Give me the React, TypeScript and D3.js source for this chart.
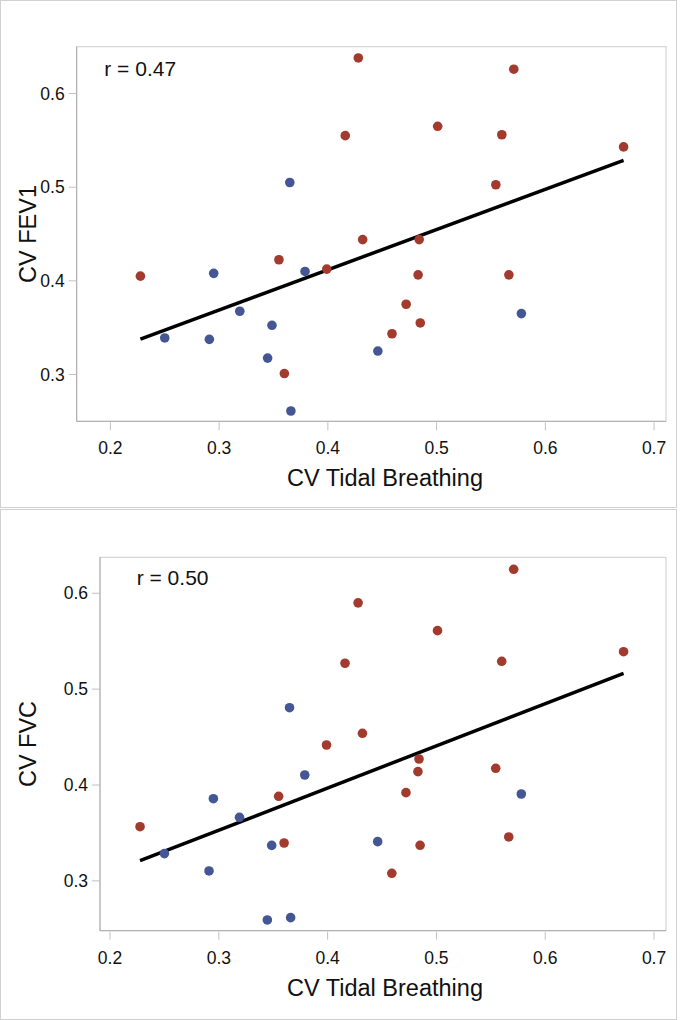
import React from 'react';
import * as d3 from 'd3';

// CV of tidal breathing (x) for each group
const tidalRed = [0.2276, 0.355, 0.399, 0.432, 0.36, 0.428, 0.416, 0.571, 0.501, 0.56, 0.672, 0.5545, 0.484, 0.483, 0.5665, 0.472, 0.485, 0.459];
const tidalBlue = [0.365, 0.295, 0.379, 0.319, 0.3486, 0.25, 0.291, 0.3446, 0.366, 0.446, 0.578];

// CV FEV1 (top panel)
const fev1Red = [0.405, 0.4225, 0.4125, 0.444, 0.301, 0.638, 0.555, 0.626, 0.565, 0.556, 0.543, 0.5026, 0.444, 0.4064, 0.4064, 0.375, 0.355, 0.3435];
const fev1Blue = [0.505, 0.408, 0.41, 0.3675, 0.3525, 0.339, 0.3375, 0.3175, 0.261, 0.325, 0.365];

// CV FVC (bottom panel)
const fvcRed = [0.3565, 0.3882, 0.4417, 0.4539, 0.3395, 0.59, 0.527, 0.625, 0.561, 0.529, 0.539, 0.4174, 0.4271, 0.4139, 0.3458, 0.392, 0.3371, 0.3079];
const fvcBlue = [0.4806, 0.3857, 0.4104, 0.3663, 0.337, 0.3284, 0.3103, 0.2592, 0.2616, 0.3409, 0.3906];

const xTicks = [0.2, 0.3, 0.4, 0.5, 0.6, 0.7];
const yTicks = [0.3, 0.4, 0.5, 0.6];
const xLabel = 'CV Tidal Breathing';
const yLabels = ['CV FEV1', 'CV FVC'];
const rLabels = ['r = 0.47', 'r = 0.50'];

const style = {
  font: '"Liberation Sans", Arial, sans-serif',
  red: '#A23A2E',
  blue: '#445694',
  frame: '#cccccc',
  axis: '#aaaaaa',
  tick: '#c0c0c0',
  border: '#d0d0d0',
  text: '#111',
  tickFont: 17.5,
  labelFont: 23.5,
  rFont: 21,
  radius: 4.8,
  lineWidth: 3.5,
};

const fmt = d3.format('.1f');

interface PanelProps {
  top: number;
  height: number;
  plot: { left: number; top: number; right: number; bottom: number };
  xDomain: [number, number];
  yDomain: [number, number];
  redY: number[];
  blueY: number[];
  yLabel: string;
  rText: string;
  rX: number;
}

// least squares fit over both groups
function fit(xs: number[], ys: number[]) {
  const mx = d3.mean(xs)!;
  const my = d3.mean(ys)!;
  let sxy = 0, sxx = 0;
  xs.forEach((x, i) => {
    sxy += (x - mx) * (ys[i] - my);
    sxx += (x - mx) * (x - mx);
  });
  const slope = sxy / sxx;
  return (x: number) => my + slope * (x - mx);
}

const Panel: React.FC<PanelProps> = ({ top, height, plot, xDomain, yDomain, redY, blueY, yLabel, rText, rX }) => {
  const x = d3.scaleLinear().domain(xDomain).range([plot.left, plot.right]);
  const y = d3.scaleLinear().domain(yDomain).range([plot.bottom, plot.top]);

  const allX = [...tidalRed, ...tidalBlue];
  const allY = [...redY, ...blueY];
  const f = fit(allX, allY);
  const [x0, x1] = d3.extent(allX) as [number, number];
  const line = d3.line<number>().x(d => x(d)).y(d => y(f(d)));

  const midY = (plot.top + plot.bottom) / 2;

  return (
    <g transform={`translate(0,${top})`} fontFamily={style.font} fill={style.text}>
      <rect x={0.5} y={0.5} width={676} height={height - 1} fill="#fff" stroke={style.border} />
      <rect x={plot.left} y={plot.top} width={plot.right - plot.left} height={plot.bottom - plot.top}
        fill="#fff" stroke={style.frame} />
      <line x1={plot.left} x2={plot.left} y1={plot.top} y2={plot.bottom} stroke={style.axis} />
      <line x1={plot.left} x2={plot.right} y1={plot.bottom} y2={plot.bottom} stroke={style.axis} />

      {xTicks.map(t => (
        <g key={t} transform={`translate(${x(t)},0)`}>
          <line y1={plot.bottom + 1} y2={plot.bottom + 9} stroke={style.tick} />
          <text y={plot.bottom + 33} textAnchor="middle" fontSize={style.tickFont}>{fmt(t)}</text>
        </g>
      ))}
      {yTicks.map(t => (
        <g key={t} transform={`translate(0,${y(t)})`}>
          <line x1={plot.left - 8} x2={plot.left} stroke={style.tick} />
          <text x={plot.left - 12} dy="0.35em" textAnchor="end" fontSize={style.tickFont}>{fmt(t)}</text>
        </g>
      ))}

      <text x={385} y={plot.bottom + 65} textAnchor="middle" fontSize={style.labelFont}>{xLabel}</text>
      <text transform={`translate(36,${midY}) rotate(-90)`} textAnchor="middle" fontSize={style.labelFont}>{yLabel}</text>
      <text x={rX} y={76} fontSize={style.rFont}>{rText}</text>

      <path d={line([x0, x1]) ?? ''} fill="none" stroke="#000" strokeWidth={style.lineWidth} />

      {tidalBlue.map((v, i) => (
        <circle key={'b' + i} cx={x(v)} cy={y(blueY[i])} r={style.radius} fill={style.blue} />
      ))}
      {tidalRed.map((v, i) => (
        <circle key={'r' + i} cx={x(v)} cy={y(redY[i])} r={style.radius} fill={style.red} />
      ))}
    </g>
  );
};

export default function App() {
  return (
    <svg width={680} height={1020} style={{ position: 'absolute', left: 0, top: 0, background: '#fff' }}>
      <Panel
        top={0}
        height={508}
        plot={{ left: 76.7, top: 46.7, right: 666, bottom: 421.3 }}
        xDomain={[0.169, 0.711]}
        yDomain={[0.25, 0.65]}
        redY={fev1Red}
        blueY={fev1Blue}
        yLabel={yLabels[0]}
        rText={rLabels[0]}
        rX={104.3}
      />
      <Panel
        top={509}
        height={511}
        plot={{ left: 100, top: 48.3, right: 666, bottom: 421.7 }}
        xDomain={[0.1908, 0.711]}
        yDomain={[0.248, 0.6375]}
        redY={fvcRed}
        blueY={fvcBlue}
        yLabel={yLabels[1]}
        rText={rLabels[1]}
        rX={136.7}
      />
    </svg>
  );
}
